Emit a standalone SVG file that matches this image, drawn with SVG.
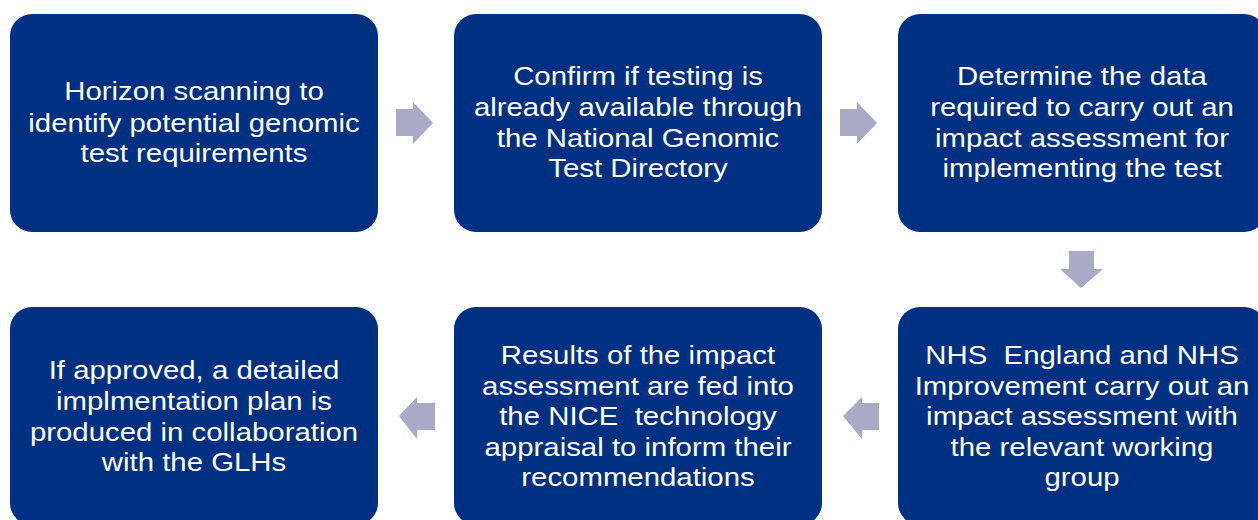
<svg xmlns="http://www.w3.org/2000/svg" width="1258" height="520" viewBox="0 0 1258 520">
  <style>
    .box { fill: #003082; }
    .lbl { fill: #ffffff; font-family: "Liberation Sans", Arial, sans-serif; font-size: 26px; text-anchor: middle; white-space: pre; }
    .arrow { fill: #a9aac6; }
  </style>
  <rect width="1258" height="520" fill="#ffffff"/>

  <g id="node-horizon">
    <rect class="box" x="10" y="14" width="368" height="218" rx="22"/>
    <g transform="translate(194 0) scale(1.13 1)">
      <text class="lbl" x="0" y="100">Horizon scanning to</text>
      <text class="lbl" x="0" y="132">identify potential genomic</text>
      <text class="lbl" x="0" y="162">test requirements</text>
    </g>
  </g>

  <g id="node-confirm">
    <rect class="box" x="454" y="14" width="368" height="218" rx="22"/>
    <g transform="translate(638 0) scale(1.13 1)">
      <text class="lbl" x="0" y="85">Confirm if testing is</text>
      <text class="lbl" x="0" y="116">already available through</text>
      <text class="lbl" x="0" y="147">the National Genomic</text>
      <text class="lbl" x="0" y="177">Test Directory</text>
    </g>
  </g>

  <g id="node-data">
    <rect class="box" x="898" y="14" width="368" height="218" rx="22"/>
    <g transform="translate(1082 0) scale(1.13 1)">
      <text class="lbl" x="0" y="85">Determine the data</text>
      <text class="lbl" x="0" y="116">required to carry out an</text>
      <text class="lbl" x="0" y="147">impact assessment for</text>
      <text class="lbl" x="0" y="177">implementing the test</text>
    </g>
  </g>

  <g id="node-impact">
    <rect class="box" x="898" y="307" width="368" height="218" rx="22"/>
    <g transform="translate(1082 0) scale(1.13 1)">
      <text class="lbl" x="0" y="364">NHS  England and NHS</text>
      <text class="lbl" x="0" y="395">Improvement carry out an</text>
      <text class="lbl" x="0" y="425">impact assessment with</text>
      <text class="lbl" x="0" y="456">the relevant working</text>
      <text class="lbl" x="0" y="486">group</text>
    </g>
  </g>

  <g id="node-nice">
    <rect class="box" x="454" y="307" width="368" height="218" rx="22"/>
    <g transform="translate(638 0) scale(1.13 1)">
      <text class="lbl" x="0" y="364">Results of the impact</text>
      <text class="lbl" x="0" y="395">assessment are fed into</text>
      <text class="lbl" x="0" y="425">the NICE  technology</text>
      <text class="lbl" x="0" y="456">appraisal to inform their</text>
      <text class="lbl" x="0" y="486">recommendations</text>
    </g>
  </g>

  <g id="node-plan">
    <rect class="box" x="10" y="307" width="368" height="218" rx="22"/>
    <g transform="translate(194 0) scale(1.13 1)">
      <text class="lbl" x="0" y="379">If approved, a detailed</text>
      <text class="lbl" x="0" y="410">implmentation plan is</text>
      <text class="lbl" x="0" y="441">produced in collaboration</text>
      <text class="lbl" x="0" y="471">with the GLHs</text>
    </g>
  </g>

  <g id="connectors">
    <!-- top row, pointing right -->
    <polygon class="arrow" points="396,109 413,109 413,102 433,123 413,144 413,136 396,136"/>
    <polygon class="arrow" points="840,109 857,109 857,102 877,123 857,144 857,136 840,136"/>
    <!-- right column, pointing down -->
    <polygon class="arrow" points="1069,251 1094,251 1094,269 1103,269 1081,288 1060,269 1069,269"/>
    <!-- bottom row, pointing left -->
    <polygon class="arrow" points="879,403 862,403 862,397 843,416 862,439 862,430 879,430"/>
    <polygon class="arrow" points="435,403 417,403 417,397 399,416 417,439 417,430 435,430"/>
  </g>
</svg>
